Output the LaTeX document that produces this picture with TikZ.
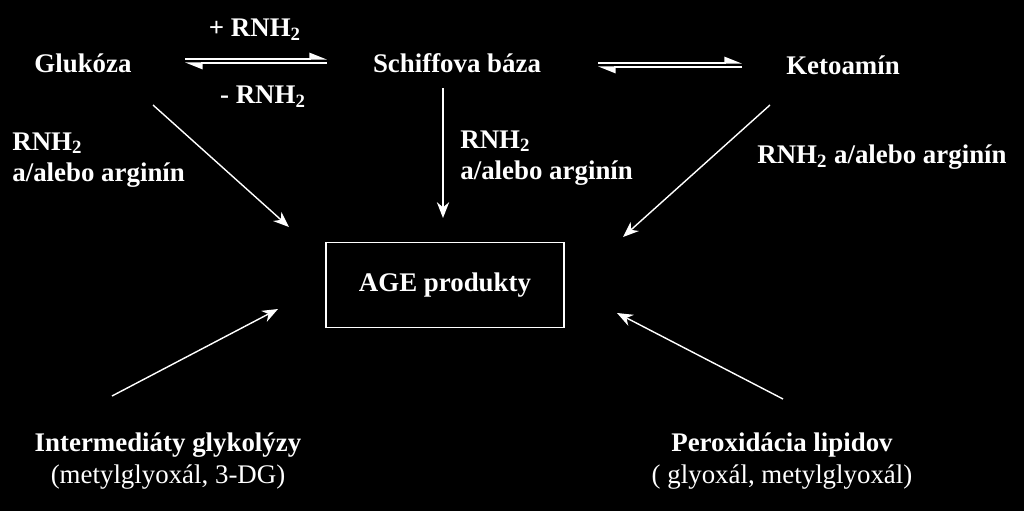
\documentclass[tikz,border=0pt]{standalone}
\usepackage{fontspec}
\setmainfont{Liberation Serif}
\usetikzlibrary{arrows.meta}
\tikzset{chem/.style={text=white,inner sep=0pt,align=left,
                      font=\fontsize{15.3}{18}\selectfont\bfseries}}
\tikzset{subst/.style={chem,align=center}}
\tikzset{arr/.style={draw=white,line width=0.8pt,-{Stealth[length=9pt,width=7pt]}}}
\tikzset{half/.style={draw=white,line width=0.8pt,-{Triangle[harpoon,length=9pt,width=7pt]}}}
\tikzset{agebox/.style={chem,draw=white,line width=0.8pt,minimum width=4.76cm,minimum height=1.7cm}}

\begin{document}
\begin{tikzpicture}[x=0.02cm,y=-0.02cm]

    \fill[black] (0,0) rectangle (1024,511);
    \useasboundingbox (0,0) rectangle (1024,511);

    % top row
    \node[chem] (gluk) at (83,63) {Glukóza};
    \node[chem] (schiff) at (457,63) {Schiffova báza};
    \node[chem] (keto) at (843,65) {Ketoamín};
    \node[chem] (plus) at (255,30) {+ RNH\textsubscript{2}};
    \node[chem] (minus) at (263,97) {- RNH\textsubscript{2}};

    % equilibria
    \coordinate (eq1l) at (185,61);
    \coordinate (eq1r) at (327,61);
    \coordinate (eq2l) at (598,65);
    \coordinate (eq2r) at (742,65);
    \draw[half] ([yshift=1.2pt]eq1l) -- ([yshift=1.2pt]eq1r);
    \draw[half] ([yshift=-1.2pt]eq1r) -- ([yshift=-1.2pt]eq1l);
    \draw[half] ([yshift=1.2pt]eq2l) -- ([yshift=1.2pt]eq2r);
    \draw[half] ([yshift=-1.2pt]eq2r) -- ([yshift=-1.2pt]eq2l);

    % AGE box
    \node[agebox] (age) at (445,285) {AGE produkty};

    % labels of the reactions
    \node[chem,anchor=west] (lab1) at (12,160) {RNH\textsubscript{2}\\a/alebo arginín};
    \node[chem,anchor=west] (lab2) at (460,158) {RNH\textsubscript{2}\\a/alebo arginín};
    \node[chem,anchor=west] (lab3) at (757,157) {RNH\textsubscript{2} a/alebo arginín};

    % sources at the bottom
    \node[subst] (inter) at (168,461) {Intermediáty glykolýzy\\{\mdseries (metylglyoxál, 3-DG)}};
    \node[subst] (perox) at (782,461) {Peroxidácia lipidov\\{\mdseries ( glyoxál, metylglyoxál)}};

    % arrow ends
    \coordinate (gluk-out) at (153,105);
    \coordinate (schiff-out) at (443,88);
    \coordinate (keto-out) at (770,105);
    \coordinate (inter-out) at (112,396);
    \coordinate (perox-out) at (783,399);
    \coordinate (age-in1) at (289,227);
    \coordinate (age-in2) at (443,218);
    \coordinate (age-in3) at (623,237);
    \coordinate (age-in4) at (278,309);
    \coordinate (age-in5) at (617,313);

    \draw[arr] (gluk-out) -- (age-in1);
    \draw[arr] (schiff-out) -- (age-in2);
    \draw[arr] (keto-out) -- (age-in3);
    \draw[arr] (inter-out) -- (age-in4);
    \draw[arr] (perox-out) -- (age-in5);

\end{tikzpicture}
\end{document}
